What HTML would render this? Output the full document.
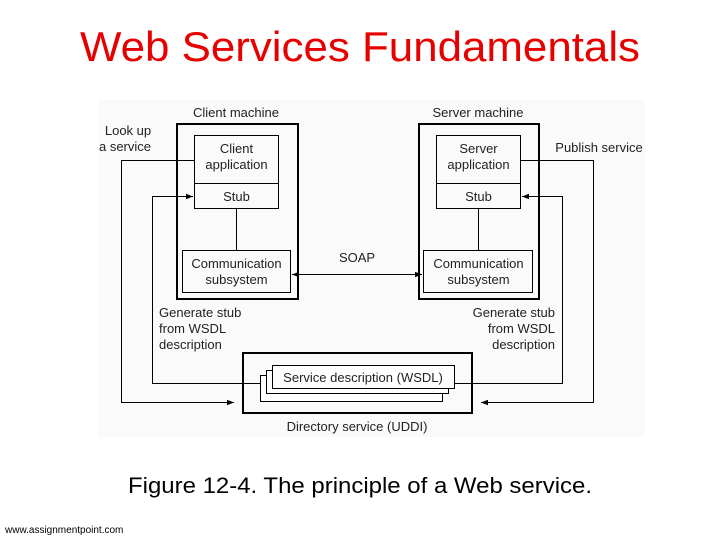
<!DOCTYPE html>
<html><head><meta charset="utf-8"><style>
html,body{margin:0;padding:0;background:#fff;width:720px;height:540px;overflow:hidden}
svg{display:block}
text{font-family:"Liberation Sans",Arial,sans-serif}
</style></head><body>
<svg width="720" height="540" viewBox="0 0 720 540" xmlns="http://www.w3.org/2000/svg">
<defs>
<marker id="a" viewBox="0 0 10 10" refX="10" refY="5" markerWidth="7" markerHeight="7" orient="auto-start-reverse"><path d="M0,1 L10,5 L0,9 Z" fill="#000"/></marker>
</defs>
<text x="360" y="61" font-size="42" fill="#e60000" text-anchor="middle" textLength="560" lengthAdjust="spacingAndGlyphs">Web Services Fundamentals</text>
<rect x="98" y="100" width="547" height="337" fill="#fafafa"/>
<g font-size="13" fill="#222" text-anchor="middle">
<text x="236" y="117">Client machine</text>
<text x="478" y="117">Server machine</text>
<text x="128" y="135">Look up</text>
<text x="125" y="151">a service</text>
<text x="599" y="152">Publish service</text>
<text x="357" y="262">SOAP</text>
<text x="357" y="431">Directory service (UDDI)</text>
</g>
<g fill="none" stroke="#000">
<rect x="177" y="124" width="121" height="175" stroke-width="2"/>
<rect x="419" y="124" width="120" height="175" stroke-width="2"/>
<rect x="243" y="353" width="229" height="60" stroke-width="2"/>
<rect x="194.5" y="135.5" width="84" height="73" stroke-width="1"/>
<line x1="194" y1="183.5" x2="279" y2="183.5"/>
<rect x="182.5" y="250.5" width="108" height="42"/>
<line x1="236.5" y1="208" x2="236.5" y2="250"/>
<rect x="436.5" y="135.5" width="84" height="73"/>
<line x1="436" y1="183.5" x2="521" y2="183.5"/>
<rect x="423.5" y="250.5" width="109" height="42"/>
<line x1="478.5" y1="208" x2="478.5" y2="250"/>
<line x1="292" y1="274.5" x2="422" y2="274.5" marker-start="url(#a)" marker-end="url(#a)"/>
<rect x="260.5" y="375.5" width="182" height="26" fill="#fff"/>
<rect x="266.5" y="370.5" width="182" height="23" fill="#fff"/>
<rect x="272.5" y="365.5" width="182" height="23" fill="#fff"/>
<polyline points="194,160.5 121.5,160.5 121.5,402.5 234,402.5" marker-end="url(#a)"/>
<polyline points="260,383.5 152.5,383.5 152.5,196.5 193,196.5" marker-end="url(#a)"/>
<polyline points="521,160.5 593.5,160.5 593.5,402.5 481,402.5" marker-end="url(#a)"/>
<polyline points="454,383.5 562.5,383.5 562.5,196.5 522,196.5" marker-end="url(#a)"/>
</g>
<g font-size="13" fill="#222" text-anchor="middle">
<text x="236.5" y="153">Client</text>
<text x="236.5" y="169">application</text>
<text x="236.5" y="201">Stub</text>
<text x="236.5" y="268">Communication</text>
<text x="236.5" y="284">subsystem</text>
<text x="478.5" y="153">Server</text>
<text x="478.5" y="169">application</text>
<text x="478.5" y="201">Stub</text>
<text x="478.5" y="268">Communication</text>
<text x="478.5" y="284">subsystem</text>
<text x="363" y="382">Service description (WSDL)</text>
</g>
<g font-size="13" fill="#222">
<text x="159" y="317">Generate stub</text>
<text x="159" y="333">from WSDL</text>
<text x="159" y="349">description</text>
<text x="555" y="317" text-anchor="end">Generate stub</text>
<text x="555" y="333" text-anchor="end">from WSDL</text>
<text x="555" y="349" text-anchor="end">description</text>
</g>
<text x="360" y="493" font-size="22" fill="#000" text-anchor="middle" textLength="464" lengthAdjust="spacingAndGlyphs">Figure 12-4. The principle of a Web service.</text>
<text x="5" y="533" font-size="10" fill="#000">www.assignmentpoint.com</text>
</svg>
</body></html>
